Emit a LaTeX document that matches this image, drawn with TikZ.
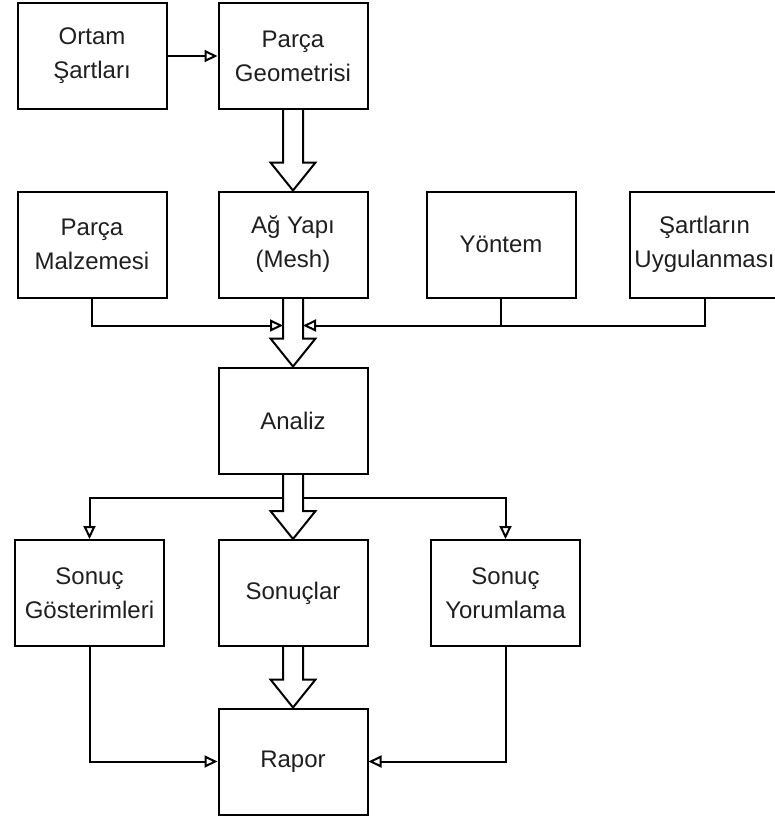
\documentclass[tikz,border=0pt]{standalone}
\usepackage{fontspec}
\setmainfont{Liberation Sans}
\usetikzlibrary{arrows.meta,calc}

% wide hollow arrow from the bottom of one box to the top of the next
\newcommand{\fatarrow}[2]{%
  \draw[hollow] ($(#1.south)+(-10,0)$) -- ($(#2.north)+(-10,-28)$)
    -- ($(#2.north)+(-22.5,-28)$) -- (#2.north)
    -- ($(#2.north)+(22.5,-28)$) -- ($(#2.north)+(10,-28)$)
    -- ($(#1.south)+(10,0)$);}

\begin{document}
\begin{tikzpicture}[x=1pt,y=-1pt,
box/.style={draw, line width=2pt, minimum width=149pt, minimum height=106pt,
  align=center, inner sep=0pt, text=black!88, font=\fontsize{24}{34}\selectfont},
link/.style={line width=2pt, -{Triangle[open, length=13pt, width=12pt]}},
hollow/.style={line width=2pt, line join=miter}]
    \useasboundingbox (0,0) rectangle (775,820);

    \node [box] (ortam)    at (92,56)      {Ortam\\Şartları};
    \node [box] (geometri) at (293,56)     {Parça\\Geometrisi};
    \node [box] (malzeme)  at (92,244.5)   {Parça\\Malzemesi};
    \node [box] (mesh)     at (293,244.5)  {Ağ Yapı\\(Mesh)};
    \node [box] (yontem)   at (501,244.5)  {Yöntem};
    \node [box] (uygulama) at (704.5,244.5) {Şartların\\Uygulanması};
    \node [box] (analiz)   at (293,420.5)  {Analiz};
    \node [box] (gosterim) at (89.5,593)   {Sonuç\\Gösterimleri};
    \node [box] (sonuclar) at (293,593)    {Sonuçlar};
    \node [box] (yorum)    at (505.5,593)  {Sonuç\\Yorumlama};
    \node [box] (rapor)    at (293,761.5)  {Rapor};

    \coordinate (merge) at ($(mesh.south)+(0,27)$);
    \coordinate (split) at ($(analiz.south)+(0,23.5)$);

    \draw [link] (ortam.east) -- (geometri.west);

    \fatarrow{geometri}{mesh}
    \fatarrow{mesh}{analiz}
    \fatarrow{analiz}{sonuclar}
    \fatarrow{sonuclar}{rapor}

    \draw [link] (malzeme.south) |- ($(merge)+(-10,0)$);
    \draw [link] (uygulama.south) |- ($(merge)+(10,0)$);
    \draw [line width=2pt] (yontem.south) -- (yontem.south |- merge);

    \draw [link] ($(split)+(-10,0)$) -| (gosterim.north);
    \draw [link] ($(split)+(10,0)$) -| (yorum.north);

    \draw [link] (gosterim.south) |- (rapor.west);
    \draw [link] (yorum.south) |- (rapor.east);
\end{tikzpicture}
\end{document}
